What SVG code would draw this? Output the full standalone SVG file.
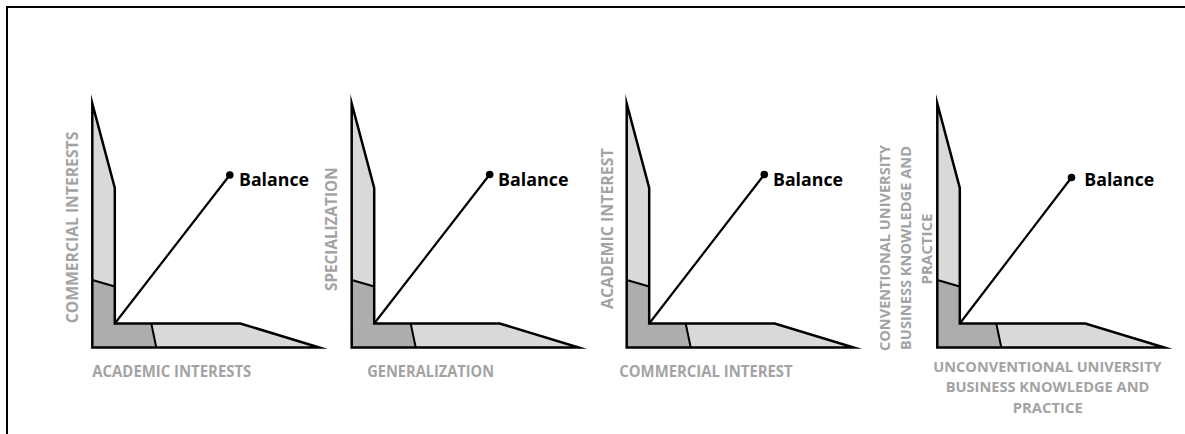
<svg xmlns="http://www.w3.org/2000/svg" xmlns:xlink="http://www.w3.org/1999/xlink" width="1185" height="434" viewBox="0 0 1185 434">
  <style>
    .frame { fill: none; stroke: #000; stroke-width: 2; }
    .light { fill: #d9d9d9; stroke: none; }
    .dark { fill: #adadad; stroke: none; }
    .outline { fill: none; stroke: #000; stroke-width: 2.5; stroke-linejoin: miter; stroke-miterlimit: 12; }
    .divider { fill: none; stroke: #000; stroke-width: 2; }
    .axis { font-family: "Open Sans", "Liberation Sans", sans-serif; font-weight: 700; font-size: 15.5px; fill: #a3a3a3; }
    .axis-small { font-size: 15px; }
    .mid { text-anchor: middle; }
    .link { fill: none; stroke: #000; stroke-width: 2.2; }
    .dot { fill: #000; }
    .tag { font-family: "Open Sans", "Liberation Sans", sans-serif; font-weight: 700; font-size: 18px; fill: #000; }
  </style>
  <defs>
    <!-- L-shaped axis plate; origin at outer left edge, absolute y -->
    <g id="plate">
      <polygon class="light" points="0,103.5 22.5,188 22.5,286.5 0,280"/>
      <polygon class="light" points="59,323.5 148,323.5 227,347.5 64,347.5"/>
      <polygon class="dark" points="0,280 22.5,286.5 22.5,323.5 59,323.5 64,347.5 0,347.5"/>
      <line class="divider" x1="0" y1="280" x2="22.5" y2="286.5"/>
      <line class="divider" x1="59" y1="323.5" x2="64" y2="347.5"/>
      <path class="outline" d="M0,347.5 L0,103.5 L22.5,188 L22.5,323.5 L148,323.5 L227,347.5 Z"/>
    </g>
  </defs>

  <rect class="frame" x="7" y="7" width="1200" height="460"/>

  <g id="chart-academic-commercial">
    <use xlink:href="#plate" href="#plate" x="92.3" y="0"/>
    <text class="axis" transform="translate(78.3,227.5) rotate(-90)" text-anchor="middle" textLength="191.6" lengthAdjust="spacingAndGlyphs">COMMERCIAL INTERESTS</text>
    <text class="axis" x="92.3" y="376.7" textLength="159" lengthAdjust="spacingAndGlyphs">ACADEMIC INTERESTS</text>
    <circle class="dot" cx="229.8" cy="175" r="3.8"/>
    <text class="tag" x="239" y="186" textLength="70" lengthAdjust="spacingAndGlyphs">Balance</text>
  </g>

  <g id="chart-specialization">
    <use xlink:href="#plate" href="#plate" x="351.7" y="0"/>
    <text class="axis" transform="translate(336.7,229.2) rotate(-90)" text-anchor="middle" textLength="123.7" lengthAdjust="spacingAndGlyphs">SPECIALIZATION</text>
    <text class="axis" x="367.3" y="377.3" textLength="126.7" lengthAdjust="spacingAndGlyphs">GENERALIZATION</text>
    <circle class="dot" cx="489.7" cy="174.5" r="3.8"/>
    <text class="tag" x="498" y="186" textLength="70.5" lengthAdjust="spacingAndGlyphs">Balance</text>
  </g>

  <g id="chart-commercial-academic">
    <use xlink:href="#plate" href="#plate" x="626.7" y="0"/>
    <text class="axis" transform="translate(613.3,228.7) rotate(-90)" text-anchor="middle" textLength="160.7" lengthAdjust="spacingAndGlyphs">ACADEMIC INTEREST</text>
    <text class="axis" x="619.3" y="377.3" textLength="173.4" lengthAdjust="spacingAndGlyphs">COMMERCIAL INTEREST</text>
    <circle class="dot" cx="764.3" cy="174.5" r="3.8"/>
    <text class="tag" x="773" y="186" textLength="70" lengthAdjust="spacingAndGlyphs">Balance</text>
  </g>

  <g id="chart-conventional">
    <use xlink:href="#plate" href="#plate" x="937.3" y="0"/>
    <text class="axis axis-small" transform="translate(890,248) rotate(-90)" text-anchor="middle" textLength="206" lengthAdjust="spacingAndGlyphs">CONVENTIONAL UNIVERSITY</text>
    <text class="axis axis-small" transform="translate(910.7,248) rotate(-90)" text-anchor="middle" textLength="204" lengthAdjust="spacingAndGlyphs">BUSINESS KNOWLEDGE AND</text>
    <text class="axis axis-small" transform="translate(931.5,249) rotate(-90)" text-anchor="middle" textLength="71" lengthAdjust="spacingAndGlyphs">PRACTICE</text>
    <text class="axis axis-small mid" x="1047.5" y="371.7" textLength="228.3" lengthAdjust="spacingAndGlyphs">UNCONVENTIONAL UNIVERSITY</text>
    <text class="axis axis-small mid" x="1047.5" y="392" textLength="203.7" lengthAdjust="spacingAndGlyphs">BUSINESS KNOWLEDGE AND</text>
    <text class="axis axis-small mid" x="1047.7" y="413" textLength="70" lengthAdjust="spacingAndGlyphs">PRACTICE</text>
    <circle class="dot" cx="1071.5" cy="177.5" r="3.8"/>
    <text class="tag" x="1084.3" y="186" textLength="70" lengthAdjust="spacingAndGlyphs">Balance</text>
  </g>

  <g id="connectors">
    <line class="link" x1="114.8" y1="323.5" x2="229.8" y2="175"/>
    <line class="link" x1="374.2" y1="323.5" x2="489.7" y2="174.5"/>
    <line class="link" x1="649.2" y1="323.5" x2="764.3" y2="174.5"/>
    <line class="link" x1="959.8" y1="323.5" x2="1071.5" y2="177.5"/>
  </g>
</svg>
